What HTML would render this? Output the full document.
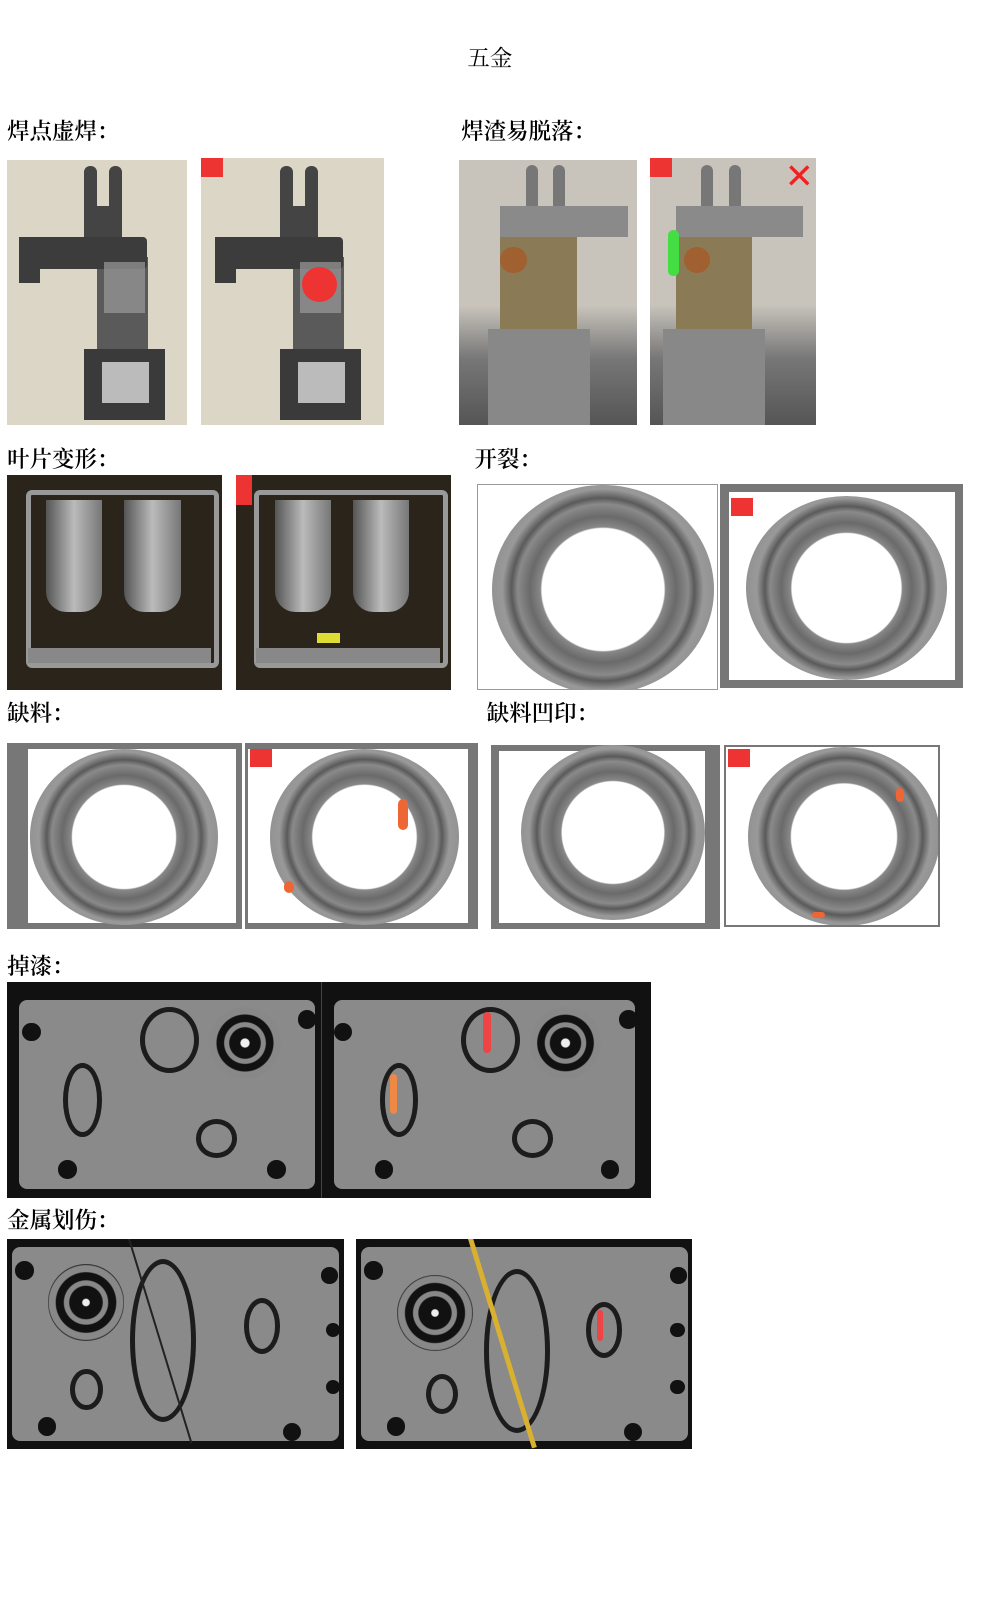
<!DOCTYPE html>
<html><head><meta charset="utf-8">
<style>
body{margin:0;width:997px;height:1600px;background:#fff;position:relative;overflow:hidden;font-family:"Liberation Serif","Noto Serif CJK SC",serif;}
#w{position:absolute;left:0;top:0;width:977px;height:1568px;zoom:1.0205;}
.t{position:absolute;font-size:22px;color:#000;white-space:nowrap;font-weight:600;}
.b{position:absolute;overflow:hidden;}
.a{position:absolute;}
.ring{position:absolute;border-radius:50%;background:radial-gradient(circle,#fff 0 40%,#888 41%,#6a6a6a 48%,#8a8a8a 56%,#5a5a5a 60%,#999 66%,#7a7a7a 100%);}
.ng{position:absolute;background:#e33;width:22px;height:18px;font-size:6px;color:#fff;}
.hole{position:absolute;border-radius:50%;background:#111;}
.ov{position:absolute;border-radius:50%;border:5px solid #1c1c1c;}
.plate{position:absolute;background:#8a8a8a;border-radius:8px;}
</style></head><body><div id="w">
<div class="t" style="left:458px;top:40px;font-weight:400">五金</div>

<div class="t" style="left:7px;top:112px">焊点虚焊：</div>
<div class="t" style="left:452px;top:112px">焊渣易脱落：</div>

<div class="b" style="left:7px;top:157px;width:176px;height:259px;background:#dcd6c6">
 <div class="a" style="left:75px;top:6px;width:13px;height:50px;background:#444;border-radius:6px"></div>
 <div class="a" style="left:100px;top:6px;width:13px;height:50px;background:#444;border-radius:6px"></div>
 <div class="a" style="left:75px;top:45px;width:38px;height:35px;background:#444"></div>
 <div class="a" style="left:88px;top:95px;width:50px;height:95px;background:#5a5a5a"></div>
 <div class="a" style="left:12px;top:75px;width:125px;height:32px;background:#3c3c3c;border-radius:4px"></div>
 <div class="a" style="left:12px;top:75px;width:20px;height:45px;background:#3c3c3c"></div>
 <div class="a" style="left:95px;top:100px;width:40px;height:50px;background:#9a9a9a;opacity:.7"></div>
 <div class="a" style="left:75px;top:185px;width:80px;height:70px;background:#3a3a3a"></div>
 <div class="a" style="left:93px;top:198px;width:46px;height:40px;background:#bbb"></div>
</div>
<div class="b" style="left:197px;top:155px;width:179px;height:261px;background:#dcd6c6">
 <div class="ng" style="left:0;top:0"></div>
 <div class="a" style="left:77px;top:8px;width:13px;height:50px;background:#444;border-radius:6px"></div>
 <div class="a" style="left:102px;top:8px;width:13px;height:50px;background:#444;border-radius:6px"></div>
 <div class="a" style="left:77px;top:47px;width:38px;height:35px;background:#444"></div>
 <div class="a" style="left:90px;top:97px;width:50px;height:95px;background:#5a5a5a"></div>
 <div class="a" style="left:14px;top:77px;width:125px;height:32px;background:#3c3c3c;border-radius:4px"></div>
 <div class="a" style="left:14px;top:77px;width:20px;height:45px;background:#3c3c3c"></div>
 <div class="a" style="left:97px;top:102px;width:40px;height:50px;background:#9a9a9a;opacity:.7"></div>
 <div class="a" style="left:99px;top:107px;width:34px;height:34px;background:#e33;border-radius:50%"></div>
 <div class="a" style="left:77px;top:187px;width:80px;height:70px;background:#3a3a3a"></div>
 <div class="a" style="left:95px;top:200px;width:46px;height:40px;background:#bbb"></div>
</div>
<div class="b" style="left:450px;top:157px;width:174px;height:259px;background:linear-gradient(#c8c4bc 0 55%,#777 75%,#555)">
 <div class="a" style="left:65px;top:5px;width:12px;height:45px;background:#777;border-radius:6px"></div>
 <div class="a" style="left:92px;top:5px;width:12px;height:45px;background:#777;border-radius:6px"></div>
 <div class="a" style="left:40px;top:45px;width:125px;height:30px;background:#8a8a8a"></div>
 <div class="a" style="left:40px;top:75px;width:75px;height:90px;background:#8a7a55"></div>
 <div class="a" style="left:40px;top:85px;width:26px;height:26px;background:#a06030;border-radius:50%"></div>
 <div class="a" style="left:28px;top:165px;width:100px;height:94px;background:#888"></div>
</div>
<div class="b" style="left:637px;top:155px;width:163px;height:261px;background:linear-gradient(#c8c4bc 0 55%,#777 75%,#555)">
 <div class="ng" style="left:0;top:0"></div>
 <div class="a" style="left:50px;top:7px;width:12px;height:45px;background:#777;border-radius:6px"></div>
 <div class="a" style="left:77px;top:7px;width:12px;height:45px;background:#777;border-radius:6px"></div>
 <div class="a" style="left:25px;top:47px;width:125px;height:30px;background:#8a8a8a"></div>
 <div class="a" style="left:25px;top:77px;width:75px;height:90px;background:#8a7a55"></div>
 <div class="a" style="left:33px;top:87px;width:26px;height:26px;background:#a06030;border-radius:50%"></div>
 <div class="a" style="left:18px;top:70px;width:10px;height:45px;background:#4d4;border-radius:5px"></div>
 <div class="a" style="left:13px;top:167px;width:100px;height:94px;background:#888"></div>
 <div class="a" style="left:132px;top:2px;font-size:34px;color:#e22;font-family:'DejaVu Sans';line-height:34px">✕</div>
</div>

<div class="t" style="left:7px;top:433px">叶片变形：</div>
<div class="t" style="left:465px;top:433px">开裂：</div>

<div class="b" style="left:7px;top:465px;width:211px;height:211px;background:#2a241a">
 <div class="a" style="left:18px;top:15px;width:180px;height:165px;border:5px solid #999;border-radius:6px"></div>
 <div class="a" style="left:38px;top:25px;width:55px;height:110px;background:linear-gradient(90deg,#555,#bbb,#777);border-radius:0 0 20px 20px"></div>
 <div class="a" style="left:115px;top:25px;width:55px;height:110px;background:linear-gradient(90deg,#555,#bbb,#777);border-radius:0 0 20px 20px"></div>
 <div class="a" style="left:20px;top:170px;width:180px;height:15px;background:#888"></div>
</div>
<div class="b" style="left:231px;top:465px;width:211px;height:211px;background:#2a241a">
 <div class="ng" style="left:0;top:0;width:16px;height:30px"></div>
 <div class="a" style="left:18px;top:15px;width:180px;height:165px;border:5px solid #999;border-radius:6px"></div>
 <div class="a" style="left:38px;top:25px;width:55px;height:110px;background:linear-gradient(90deg,#555,#bbb,#777);border-radius:0 0 20px 20px"></div>
 <div class="a" style="left:115px;top:25px;width:55px;height:110px;background:linear-gradient(90deg,#555,#bbb,#777);border-radius:0 0 20px 20px"></div>
 <div class="a" style="left:20px;top:170px;width:180px;height:15px;background:#888"></div>
 <div class="a" style="left:80px;top:155px;width:22px;height:10px;background:#dd3"></div>
</div>
<div class="b" style="left:467px;top:474px;width:237px;height:202px;background:#fff;border:1px solid #999;box-sizing:border-box">
 <div class="ring" style="left:14px;top:0px;width:218px;height:205px"></div>
</div>
<div class="b" style="left:706px;top:474px;width:238px;height:200px;background:#777">
 <div class="a" style="left:8px;top:8px;width:222px;height:184px;background:#fff"></div>
 <div class="ring" style="left:25px;top:12px;width:197px;height:180px"></div>
 <div class="ng" style="left:10px;top:14px"></div>
</div>

<div class="t" style="left:7px;top:682px">缺料：</div>
<div class="t" style="left:477px;top:682px">缺料凹印：</div>

<div class="b" style="left:7px;top:728px;width:230px;height:182px;background:#777">
 <div class="a" style="left:20px;top:6px;width:204px;height:170px;background:#fff"></div>
 <div class="ring" style="left:22px;top:6px;width:185px;height:172px"></div>
</div>
<div class="b" style="left:240px;top:728px;width:228px;height:182px;background:#777">
 <div class="a" style="left:3px;top:6px;width:216px;height:170px;background:#fff"></div>
 <div class="ring" style="left:25px;top:6px;width:185px;height:172px"></div>
 <div class="ng" style="left:5px;top:6px"></div>
 <div class="a" style="left:150px;top:55px;width:10px;height:30px;background:#e63;border-radius:5px"></div>
 <div class="a" style="left:38px;top:135px;width:10px;height:12px;background:#e63;border-radius:5px"></div>
</div>
<div class="b" style="left:481px;top:730px;width:225px;height:180px;background:#777">
 <div class="a" style="left:8px;top:6px;width:202px;height:168px;background:#fff"></div>
 <div class="ring" style="left:30px;top:0px;width:180px;height:172px"></div>
</div>
<div class="b" style="left:709px;top:730px;width:212px;height:178px;background:#fff;border:2px solid #777;box-sizing:border-box">
 <div class="ring" style="left:22px;top:0px;width:188px;height:175px"></div>
 <div class="ng" style="left:2px;top:2px"></div>
 <div class="a" style="left:167px;top:40px;width:8px;height:14px;background:#e63;border-radius:4px"></div>
 <div class="a" style="left:85px;top:162px;width:12px;height:6px;background:#e63;border-radius:4px"></div>
</div>

<div class="t" style="left:7px;top:930px">掉漆：</div>

<div class="b" style="left:7px;top:962px;width:631px;height:212px;background:#111">
 <div class="plate" style="left:12px;top:18px;width:290px;height:185px"></div>
 <div class="plate" style="left:320px;top:18px;width:295px;height:185px"></div>
 <div class="a" style="left:308px;top:0;width:1px;height:212px;background:#444"></div>
 <div class="hole" style="left:15px;top:40px;width:18px;height:18px"></div>
 <div class="hole" style="left:285px;top:28px;width:18px;height:18px"></div>
 <div class="hole" style="left:50px;top:175px;width:18px;height:18px"></div>
 <div class="hole" style="left:255px;top:175px;width:18px;height:18px"></div>
 <div class="ov" style="left:130px;top:25px;width:48px;height:55px"></div>
 <div class="ov" style="left:55px;top:80px;width:28px;height:62px"></div>
 <div class="ov" style="left:185px;top:135px;width:30px;height:28px"></div>
 <div class="a" style="left:198px;top:25px;width:70px;height:70px;border-radius:50%;background:radial-gradient(circle,#eee 0 8%,#111 10% 30%,#888 32% 40%,#111 42% 55%,#888 57%)"></div>
 <div class="hole" style="left:320px;top:40px;width:18px;height:18px"></div>
 <div class="hole" style="left:600px;top:28px;width:18px;height:18px"></div>
 <div class="hole" style="left:360px;top:175px;width:18px;height:18px"></div>
 <div class="hole" style="left:582px;top:175px;width:18px;height:18px"></div>
 <div class="ov" style="left:445px;top:25px;width:48px;height:55px"></div>
 <div class="a" style="left:466px;top:30px;width:8px;height:40px;background:#e44;border-radius:4px"></div>
 <div class="ov" style="left:365px;top:80px;width:28px;height:62px"></div>
 <div class="a" style="left:375px;top:90px;width:7px;height:40px;background:#e84;border-radius:4px"></div>
 <div class="ov" style="left:495px;top:135px;width:30px;height:28px"></div>
 <div class="a" style="left:512px;top:25px;width:70px;height:70px;border-radius:50%;background:radial-gradient(circle,#eee 0 8%,#111 10% 30%,#888 32% 40%,#111 42% 55%,#888 57%)"></div>
</div>

<div class="t" style="left:7px;top:1179px">金属划伤：</div>

<div class="b" style="left:7px;top:1214px;width:330px;height:206px;background:#111">
 <div class="plate" style="left:5px;top:8px;width:320px;height:190px"></div>
 <div class="hole" style="left:8px;top:22px;width:18px;height:18px"></div>
 <div class="hole" style="left:308px;top:28px;width:16px;height:16px"></div>
 <div class="hole" style="left:312px;top:82px;width:14px;height:14px"></div>
 <div class="hole" style="left:312px;top:138px;width:14px;height:14px"></div>
 <div class="hole" style="left:30px;top:175px;width:18px;height:18px"></div>
 <div class="hole" style="left:270px;top:180px;width:18px;height:18px"></div>
 <div class="a" style="left:40px;top:25px;width:75px;height:75px;border-radius:50%;background:radial-gradient(circle,#eee 0 6%,#111 8% 30%,#888 32% 40%,#111 42% 55%,#888 57% 68%,#333 70%)"></div>
 <div class="ov" style="left:120px;top:20px;width:55px;height:150px"></div>
 <div class="ov" style="left:232px;top:58px;width:26px;height:45px"></div>
 <div class="ov" style="left:62px;top:128px;width:22px;height:30px"></div>
 <div class="a" style="left:118px;top:0;width:1.5px;height:210px;background:#222;transform:rotate(-17deg);transform-origin:0 0"></div>
</div>
<div class="b" style="left:349px;top:1214px;width:329px;height:206px;background:#111">
 <div class="plate" style="left:5px;top:8px;width:320px;height:190px"></div>
 <div class="hole" style="left:8px;top:22px;width:18px;height:18px"></div>
 <div class="hole" style="left:308px;top:28px;width:16px;height:16px"></div>
 <div class="hole" style="left:308px;top:82px;width:14px;height:14px"></div>
 <div class="hole" style="left:308px;top:138px;width:14px;height:14px"></div>
 <div class="hole" style="left:30px;top:175px;width:18px;height:18px"></div>
 <div class="hole" style="left:262px;top:180px;width:18px;height:18px"></div>
 <div class="a" style="left:40px;top:35px;width:75px;height:75px;border-radius:50%;background:radial-gradient(circle,#eee 0 6%,#111 8% 30%,#888 32% 40%,#111 42% 55%,#888 57% 68%,#333 70%)"></div>
 <div class="ov" style="left:125px;top:30px;width:55px;height:150px"></div>
 <div class="ov" style="left:225px;top:62px;width:26px;height:45px"></div>
 <div class="a" style="left:236px;top:70px;width:6px;height:30px;background:#e44;border-radius:3px"></div>
 <div class="ov" style="left:68px;top:132px;width:22px;height:30px"></div>
 <div class="a" style="left:110px;top:0;width:5px;height:215px;background:#d9b030;transform:rotate(-17deg);transform-origin:0 0"></div>
</div>
</div></body></html>
